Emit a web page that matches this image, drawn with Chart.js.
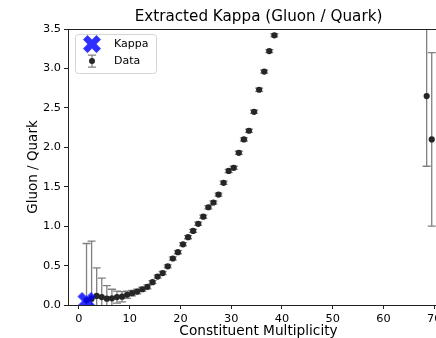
<!DOCTYPE html>
<html>
<head>
<meta charset="utf-8">
<script src="https://cdn.jsdelivr.net/npm/chart.js@4"></script>
<style>
  html, body { margin: 0; padding: 0; background: #fff; overflow: hidden; }
  #wrap { width: 460px; height: 338px; }
</style>
</head>
<body>
<div id="wrap"><canvas id="grafico" width="460" height="338"></canvas></div>
<script>
/* ===========================================
   DADOS
=========================================== */
const multiplicity = [
    1.5, 2.5, 3.5, 4.5, 5.5, 6.5, 7.5, 8.5, 9.5, 10.5,
    11.5, 12.5, 13.5, 14.5, 15.5, 16.5, 17.5, 18.5, 19.5, 20.5,
    21.5, 22.5, 23.5, 24.5, 25.5, 26.5, 27.5, 28.5, 29.5, 30.5,
    31.5, 32.5, 33.5, 34.5, 35.5, 36.5, 37.5, 38.5, 68.5, 69.5
];
const ratio = [
    0.06, 0.08, 0.115, 0.10, 0.08, 0.085, 0.10, 0.105, 0.13, 0.15,
    0.17, 0.20, 0.23, 0.29, 0.36, 0.405, 0.49, 0.59, 0.67, 0.77,
    0.86, 0.94, 1.03, 1.12, 1.24, 1.30, 1.40, 1.55, 1.70, 1.74,
    1.93, 2.10, 2.21, 2.45, 2.73, 2.96, 3.22, 3.42, 2.65, 2.10
];
const ratioErr = [
    0.72, 0.73, 0.355, 0.24, 0.165, 0.115, 0.075, 0.065, 0.045, 0.035,
    0.03, 0.025, 0.025, 0.02, 0.02, 0.02, 0.02, 0.02, 0.02, 0.02,
    0.02, 0.02, 0.02, 0.02, 0.02, 0.02, 0.02, 0.02, 0.02, 0.02,
    0.02, 0.02, 0.02, 0.02, 0.02, 0.02, 0.02, 0.02, 0.89, 1.10
];
const kappaX = [1.5];
const kappaY = [0.05];

const xTicks = [0, 10, 20, 30, 40, 50, 60, 70];
const yTicks = [0, 0.5, 1.0, 1.5, 2.0, 2.5, 3.0, 3.5];

const FONTE = "'DejaVu Sans', sans-serif";
const AZUL = "rgba(0, 0, 255, 0.82)";
const PONTO = "#262626";
const BARRA = "#808080";

/* ===========================================
   MARCADOR "X" PREENCHIDO
=========================================== */
function marcadorX(tam, cor) {
    const c = document.createElement("canvas");
    c.width = tam + 2;
    c.height = tam + 2;
    const g = c.getContext("2d");
    const a = tam / 2 / 0.943;   // meia-extensao do "+" antes de girar
    const t = a / 3;             // meia-espessura do braco
    const mais = [
        [t, a], [t, t], [a, t], [a, -t], [t, -t], [t, -a],
        [-t, -a], [-t, -t], [-a, -t], [-a, t], [-t, t], [-t, a]
    ];
    g.translate(c.width / 2, c.height / 2);
    g.rotate(Math.PI / 4);
    g.beginPath();
    mais.forEach(([x, y], i) => (i ? g.lineTo(x, y) : g.moveTo(x, y)));
    g.closePath();
    g.fillStyle = cor;
    g.fill();
    return c;
}
const iconeKappa = marcadorX(18, AZUL);

/* ===========================================
   BARRAS DE ERRO
=========================================== */
const barrasErro = {
    id: "barrasErro",
    beforeDatasetsDraw(chart) {
        const { ctx, chartArea: area, scales } = chart;
        ctx.save();
        ctx.beginPath();
        ctx.rect(area.left, area.top, area.right - area.left, area.bottom - area.top);
        ctx.clip();
        ctx.strokeStyle = BARRA;
        ctx.lineWidth = 1.3;
        multiplicity.forEach((m, i) => {
            const px = scales.x.getPixelForValue(m);
            const lo = scales.y.getPixelForValue(ratio[i] - ratioErr[i]);
            const hi = scales.y.getPixelForValue(ratio[i] + ratioErr[i]);
            ctx.beginPath();
            ctx.moveTo(px, lo); ctx.lineTo(px, hi);
            ctx.moveTo(px - 4, lo); ctx.lineTo(px + 4, lo);
            ctx.moveTo(px - 4, hi); ctx.lineTo(px + 4, hi);
            ctx.stroke();
        });
        ctx.restore();
    }
};

/* ===========================================
   MOLDURA DOS EIXOS
=========================================== */
const moldura = {
    id: "moldura",
    afterDatasetsDraw(chart) {
        const { ctx, chartArea: a } = chart;
        ctx.save();
        ctx.strokeStyle = "#222";
        ctx.lineWidth = 1;
        ctx.strokeRect(Math.round(a.left) + 0.5, Math.round(a.top) + 0.5,
            Math.round(a.right - a.left), Math.round(a.bottom - a.top));
        ctx.restore();
    }
};

/* ===========================================
   LEGENDA
=========================================== */
const legenda = {
    id: "legenda",
    afterDraw(chart) {
        const ctx = chart.ctx;
        const a = chart.chartArea;
        const x0 = a.left + 7, y0 = a.top + 5, w = 81, h = 39;
        ctx.save();
        ctx.beginPath();
        ctx.roundRect(x0 + 0.5, y0 + 0.5, w, h, 3);
        ctx.fillStyle = "rgba(255,255,255,0.8)";
        ctx.fill();
        ctx.strokeStyle = "#d4d4d4";
        ctx.lineWidth = 1;
        ctx.stroke();

        const ds = chart.data.datasets;
        const mx = x0 + 17, tx = x0 + 39;

        // Kappa
        ctx.drawImage(iconeKappa, mx - iconeKappa.width / 2, y0 + 10 - iconeKappa.height / 2);

        // Data: ponto com barra de erro
        const cy = y0 + 27;
        ctx.strokeStyle = BARRA;
        ctx.lineWidth = 1.3;
        ctx.beginPath();
        ctx.moveTo(mx, cy - 6); ctx.lineTo(mx, cy + 6);
        ctx.moveTo(mx - 4, cy - 6); ctx.lineTo(mx + 4, cy - 6);
        ctx.moveTo(mx - 4, cy + 6); ctx.lineTo(mx + 4, cy + 6);
        ctx.stroke();
        ctx.beginPath();
        ctx.arc(mx, cy, 3, 0, Math.PI * 2);
        ctx.fillStyle = PONTO;
        ctx.fill();

        ctx.fillStyle = "#000";
        ctx.font = "11px " + FONTE;
        ctx.textBaseline = "middle";
        ctx.fillText(ds[0].label, tx, y0 + 10);
        ctx.fillText(ds[1].label, tx, cy);
        ctx.restore();
    }
};

/* ===========================================
   GRAFICO
=========================================== */
Chart.defaults.font.family = FONTE;
Chart.defaults.font.size = 11.3;
Chart.defaults.color = "#000";

new Chart(document.getElementById("grafico"), {
    type: "scatter",
    data: {
        datasets: [
            {
                label: "Kappa",
                data: kappaX.map((x, i) => ({ x, y: kappaY[i] })),
                pointStyle: iconeKappa,
                order: 0,
                clip: 0
            },
            {
                label: "Data",
                data: multiplicity.map((x, i) => ({ x, y: ratio[i] })),
                pointStyle: "circle",
                pointRadius: 3.1,
                backgroundColor: PONTO,
                borderWidth: 0,
                order: 1,
                clip: 0
            }
        ]
    },
    plugins: [barrasErro, moldura, legenda],
    options: {
        responsive: false,
        animation: false,
        layout: { padding: { left: 0, right: 11, top: 0, bottom: 0 } },
        plugins: {
            legend: { display: false },
            tooltip: { enabled: false },
            title: {
                display: true,
                text: "Extracted Kappa (Gluon / Quark)",
                fullSize: false,
                font: { size: 15.2, weight: "normal" },
                color: "#000",
                padding: { top: 8.3, bottom: 2.5 }
            }
        },
        scales: {
            x: {
                type: "linear",
                min: -2.15,
                max: 72.9,
                afterBuildTicks: s => { s.ticks = xTicks.map(v => ({ value: v })); },
                afterFit: s => { s.height = 33; },
                ticks: { padding: 3, maxRotation: 0, callback: v => v.toFixed(0) },
                grid: { drawOnChartArea: false, drawTicks: true, tickLength: 4, color: "#222" },
                border: { display: false },
                title: {
                    display: true,
                    text: "Constituent Multiplicity",
                    font: { size: 13.7 },
                    padding: { top: 0, bottom: -2 }
                }
            },
            y: {
                type: "linear",
                min: 0,
                max: 3.5,
                afterBuildTicks: s => { s.ticks = yTicks.map(v => ({ value: v })); },
                afterFit: s => { s.width = 68; },
                ticks: { padding: 3, callback: v => v.toFixed(1) },
                grid: { drawOnChartArea: false, drawTicks: true, tickLength: 4, color: "#222" },
                border: { display: false },
                title: {
                    display: true,
                    text: "Gluon / Quark",
                    font: { size: 13.5 },
                    padding: { top: 25.5, bottom: 0 }
                }
            }
        }
    }
});
</script>
</body>
</html>
